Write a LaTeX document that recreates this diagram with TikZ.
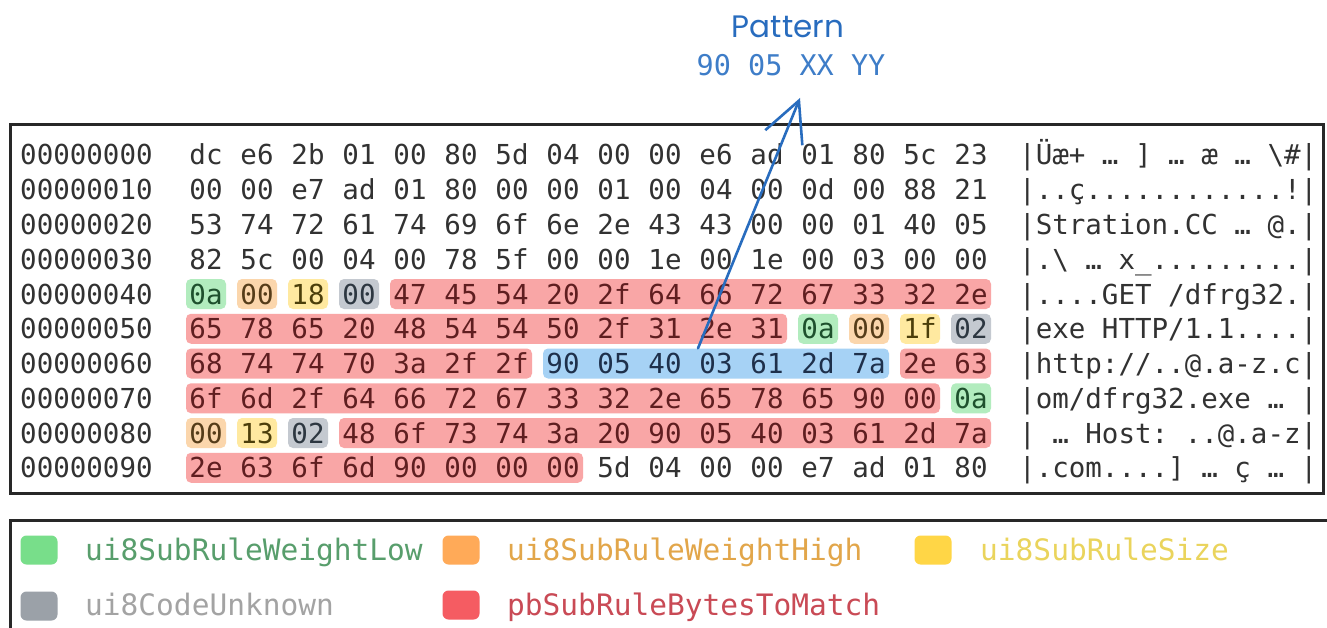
\documentclass[tikz,border=0pt]{standalone}
\usepackage{fontspec}
\newfontfamily\hexfont[WordSpace={1,0,0}]{DejaVu Sans Mono}
\newfontfamily\handfont{Poppins}
\usetikzlibrary{arrows.meta}

% highlight fills
\definecolor{hlG}{RGB}{178,236,190}
\definecolor{hlO}{RGB}{251,214,172}
\definecolor{hlY}{RGB}{255,233,160}
\definecolor{hlK}{RGB}{196,201,208}
\definecolor{hlR}{RGB}{249,166,166}
\definecolor{hlB}{RGB}{166,210,245}
% text on top of the highlights
\definecolor{txN}{RGB}{50,50,50}
\definecolor{txG}{RGB}{30,80,45}
\definecolor{txO}{RGB}{85,60,25}
\definecolor{txY}{RGB}{75,62,10}
\definecolor{txK}{RGB}{45,55,65}
\definecolor{txR}{RGB}{95,30,32}
\definecolor{txB}{RGB}{30,48,75}
% legend swatches and labels
\definecolor{swG}{RGB}{120,222,138}
\definecolor{swO}{RGB}{255,170,88}
\definecolor{swY}{RGB}{255,214,70}
\definecolor{swK}{RGB}{155,161,168}
\definecolor{swR}{RGB}{245,92,98}
\definecolor{lgG}{RGB}{88,158,108}
\definecolor{lgO}{RGB}{226,166,74}
\definecolor{lgY}{RGB}{234,212,92}
\definecolor{lgK}{RGB}{163,163,163}
\definecolor{lgR}{RGB}{201,74,85}
% frame and pattern annotation
\definecolor{frameclr}{RGB}{40,40,40}
\definecolor{patblue}{RGB}{40,108,190}
\definecolor{patbytes}{RGB}{62,125,200}

\tikzset{
  hexcell/.style={font=\hexfont\fontsize{27.5}{30}\selectfont\frenchspacing, inner sep=0pt, anchor=base},
  offcell/.style={hexcell, anchor=base west, text=txN},
  asciicell/.style={hexcell, anchor=base west, text=txN},
  hl/.style={fill=#1, draw=none, rounded corners=5pt, inner sep=0pt, minimum height=30pt},
  swatch/.style={fill=#1, draw=none, rounded corners=6pt, inner sep=0pt, minimum width=37pt, minimum height=29pt},
  legtext/.style={font=\hexfont\fontsize{29.5}{30}\selectfont, inner sep=0pt, anchor=base west, text=#1},
  frame/.style={draw=frameclr, line width=3pt},
  pointer/.style={draw=patblue, line width=2.6pt, line cap=round, line join=round,
    -{Straight Barb[length=40pt,width=40pt]}},
}

% one row of 16 hex bytes, each given as byte/colour-class
\newcommand\hexrow[2]{%
  \foreach \by/\cl [count=\ci from 0] in {#2}{%
    \node[hexcell, text=tx\cl] (h#1-\ci) at ({206+51*\ci},{165+34.75*#1}) {\by};
  }%
}
% a highlight bar: name, row, first column, last column, fill
\newcommand\hlbar[5]{%
  \node[hl=#5, minimum width={51*(#4-#3)+40}] (#1) at ({206+25.5*(#3+#4)},{155+34.75*#2}) {};%
}

\begin{document}
\begin{tikzpicture}[x=1pt,y=-1pt]
\useasboundingbox (0,0) rectangle (1327,628);
\clip (0,0) rectangle (1327,628);
\fill[white] (0,0) rectangle (1327,628);

% pattern annotation
\node[font=\handfont\fontsize{31}{34}\selectfont, text=patblue, inner sep=0pt] (pattitle) at (788,27) {Pattern};
\node[hexcell, anchor=center, font=\hexfont\fontsize{28.5}{30}\selectfont, text=patbytes] (patbytes) at (791,65) {90 05 XX YY};

% dump frame
\draw[frame] (10,125) rectangle (1323,493);

% highlighted fields
\hlbar{f4a}{4}{0}{0}{hlG}
\hlbar{f4b}{4}{1}{1}{hlO}
\hlbar{f4c}{4}{2}{2}{hlY}
\hlbar{f4d}{4}{3}{3}{hlK}
\hlbar{f4e}{4}{4}{15}{hlR}
\hlbar{f5a}{5}{0}{11}{hlR}
\hlbar{f5b}{5}{12}{12}{hlG}
\hlbar{f5c}{5}{13}{13}{hlO}
\hlbar{f5d}{5}{14}{14}{hlY}
\hlbar{f5e}{5}{15}{15}{hlK}
\hlbar{f6a}{6}{0}{6}{hlR}
\hlbar{match}{6}{7}{13}{hlB}
\hlbar{f6c}{6}{14}{15}{hlR}
\hlbar{f7a}{7}{0}{14}{hlR}
\hlbar{f7b}{7}{15}{15}{hlG}
\hlbar{f8a}{8}{0}{0}{hlO}
\hlbar{f8b}{8}{1}{1}{hlY}
\hlbar{f8c}{8}{2}{2}{hlK}
\hlbar{f8d}{8}{3}{15}{hlR}
\hlbar{f9a}{9}{0}{7}{hlR}

% offsets
\foreach \r/\off in {0/00000000,1/00000010,2/00000020,3/00000030,4/00000040,
                     5/00000050,6/00000060,7/00000070,8/00000080,9/00000090}{
  \node[offcell] (off\r) at (20,{165+34.75*\r}) {\off};
}

% hex bytes
\hexrow{0}{dc/N,e6/N,2b/N,01/N,00/N,80/N,5d/N,04/N,00/N,00/N,e6/N,ad/N,01/N,80/N,5c/N,23/N}
\hexrow{1}{00/N,00/N,e7/N,ad/N,01/N,80/N,00/N,00/N,01/N,00/N,04/N,00/N,0d/N,00/N,88/N,21/N}
\hexrow{2}{53/N,74/N,72/N,61/N,74/N,69/N,6f/N,6e/N,2e/N,43/N,43/N,00/N,00/N,01/N,40/N,05/N}
\hexrow{3}{82/N,5c/N,00/N,04/N,00/N,78/N,5f/N,00/N,00/N,1e/N,00/N,1e/N,00/N,03/N,00/N,00/N}
\hexrow{4}{0a/G,00/O,18/Y,00/K,47/R,45/R,54/R,20/R,2f/R,64/R,66/R,72/R,67/R,33/R,32/R,2e/R}
\hexrow{5}{65/R,78/R,65/R,20/R,48/R,54/R,54/R,50/R,2f/R,31/R,2e/R,31/R,0a/G,00/O,1f/Y,02/K}
\hexrow{6}{68/R,74/R,74/R,70/R,3a/R,2f/R,2f/R,90/B,05/B,40/B,03/B,61/B,2d/B,7a/B,2e/R,63/R}
\hexrow{7}{6f/R,6d/R,2f/R,64/R,66/R,72/R,67/R,33/R,32/R,2e/R,65/R,78/R,65/R,90/R,00/R,0a/G}
\hexrow{8}{00/O,13/Y,02/K,48/R,6f/R,73/R,74/R,3a/R,20/R,90/R,05/R,40/R,03/R,61/R,2d/R,7a/R}
\hexrow{9}{2e/R,63/R,6f/R,6d/R,90/R,00/R,00/R,00/R,5d/N,04/N,00/N,00/N,e7/N,ad/N,01/N,80/N}

% printable column
\node[asciicell] (asc0) at (1019,165) {|Üæ+ … ] … æ … \textbackslash\#|};
\node[asciicell] (asc1) at (1019,199.75) {|..ç............!|};
\node[asciicell] (asc2) at (1019,234.5) {|Stration.CC … @.|};
\node[asciicell] (asc3) at (1019,269.25) {|.\textbackslash{} … x\_.........|};
\node[asciicell] (asc4) at (1019,304) {|....GET /dfrg32.|};
\node[asciicell] (asc5) at (1019,338.75) {|exe HTTP/1.1....|};
\node[asciicell] (asc6) at (1019,373.5) {|http://..@.a-z.c|};
\node[asciicell] (asc7) at (1019,408.25) {|om/dfrg32.exe … |};
\node[asciicell] (asc8) at (1019,443) {| … Host: ..@.a-z|};
\node[asciicell] (asc9) at (1019,477.75) {|.com....] … ç … |};

% legend
\draw[frame] (10,650) -- (10,520) -- (1340,520);
\node[swatch=swG] (swG) at (39,550) {};
\node[legtext=lgG] (lgG) at (85,560) {ui8SubRuleWeightLow};
\node[swatch=swO] (swO) at (461,550) {};
\node[legtext=lgO] (lgO) at (507,560) {ui8SubRuleWeightHigh};
\node[swatch=swY] (swY) at (933,550) {};
\node[legtext=lgY] (lgY) at (980,560) {ui8SubRuleSize};
\node[swatch=swK] (swK) at (39,606) {};
\node[legtext=lgK] (lgK) at (85,615) {ui8CodeUnknown};
\node[swatch=swR] (swR) at (461,605) {};
\node[legtext=lgR] (lgR) at (507,615) {pbSubRuleBytesToMatch};

% pointer from the matched bytes up to the pattern
\coordinate (src) at ([xshift=-18pt]match.north);
\coordinate (tip) at ([xshift=9pt,yshift=-22pt]patbytes.south);
\draw[pointer] (src) -- (tip);
\end{tikzpicture}
\end{document}
